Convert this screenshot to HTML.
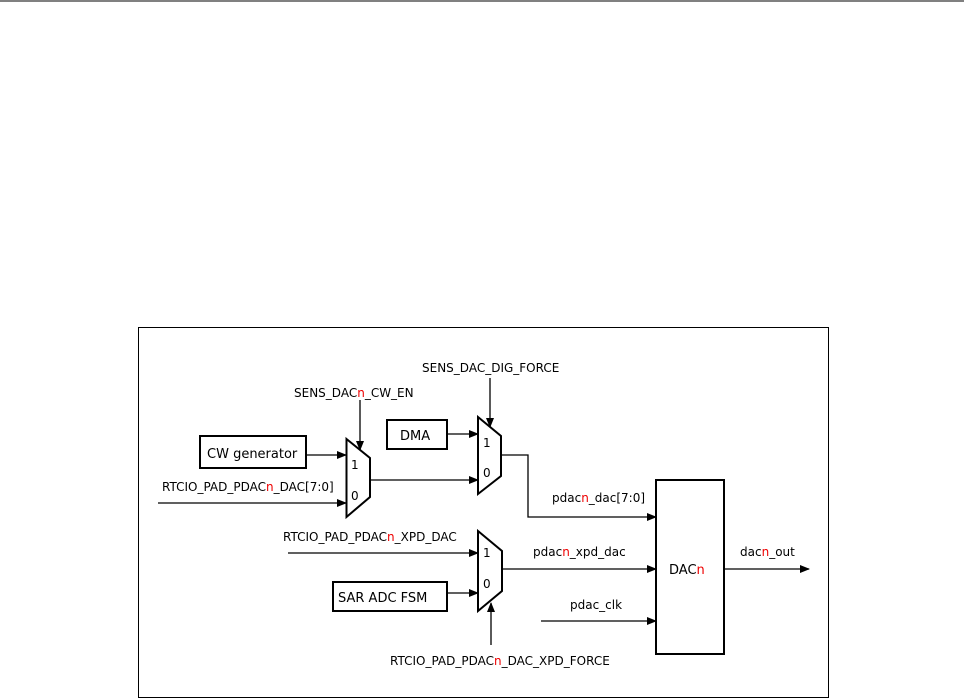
<!DOCTYPE html>
<html><head><style>body{margin:0;background:#fff}svg{display:block}text{font-family:"DejaVu Sans",sans-serif;font-size:12px;fill:#000}.r{fill:#e00}</style></head>
<body>
<svg width="964" height="699" viewBox="0 0 964 699" xmlns="http://www.w3.org/2000/svg">
<defs><marker id="a" markerWidth="10" markerHeight="8" refX="9" refY="4" orient="auto" markerUnits="userSpaceOnUse"><path d="M0,0 L10,4 L0,8 z" fill="#000"/></marker></defs>
<line x1="0" y1="1" x2="964" y2="1" stroke="#000" stroke-width="1"/>
<rect x="138.5" y="327.5" width="690" height="370" fill="none" stroke="#000"/>
<g fill="none" stroke="#000" stroke-width="1.3">
<rect x="200" y="436" width="106" height="32" stroke-width="2"/>
<rect x="387" y="420" width="60" height="29" stroke-width="2"/>
<rect x="333" y="582" width="114" height="29" stroke-width="2"/>
<rect x="656" y="480" width="68" height="174" stroke-width="2"/>
<path d="M346.5,439 L370,458 L370,497 L346.5,517 Z" stroke-width="2"/>
<path d="M478,417 L501,436 L501,476 L478,494 Z" stroke-width="2"/>
<path d="M478,531 L502,551 L502,591 L478,611 Z" stroke-width="2"/>
<line x1="306" y1="455" x2="346" y2="455" marker-end="url(#a)"/>
<line x1="158" y1="503" x2="346" y2="503" marker-end="url(#a)"/>
<line x1="360" y1="400" x2="360" y2="450" marker-end="url(#a)"/>
<line x1="370" y1="480" x2="478" y2="480" marker-end="url(#a)"/>
<line x1="447" y1="434" x2="478" y2="434" marker-end="url(#a)"/>
<line x1="490" y1="378" x2="490" y2="427" marker-end="url(#a)"/>
<polyline points="501,455 528,455 528,517 656,517" marker-end="url(#a)"/>
<line x1="288" y1="553" x2="478" y2="553" marker-end="url(#a)"/>
<line x1="502" y1="569" x2="656" y2="569" marker-end="url(#a)"/>
<line x1="447" y1="593" x2="478" y2="593" marker-end="url(#a)"/>
<line x1="541" y1="621" x2="656" y2="621" marker-end="url(#a)"/>
<line x1="491" y1="645" x2="491" y2="603" marker-end="url(#a)"/>
<line x1="724" y1="569" x2="809" y2="569" marker-end="url(#a)"/>
</g>
<text x="207" y="458" style="font-size:13px">CW generator</text>
<text x="400" y="440" style="font-size:13px">DMA</text>
<text x="338" y="602" style="font-size:13px">SAR ADC FSM</text>
<text x="669" y="574" style="font-size:13px">DAC<tspan class="r">n</tspan></text>
<text x="351" y="469">1</text><text x="351" y="500">0</text>
<text x="483" y="447">1</text><text x="483" y="477">0</text>
<text x="483" y="557">1</text><text x="483" y="588">0</text>
<text x="294" y="397">SENS_DAC<tspan class="r">n</tspan>_CW_EN</text>
<text x="422" y="372">SENS_DAC_DIG_FORCE</text>
<text x="162" y="491">RTCIO_PAD_PDAC<tspan class="r">n</tspan>_DAC[7:0]</text>
<text x="552" y="502">pdac<tspan class="r">n</tspan>_dac[7:0]</text>
<text x="283" y="541">RTCIO_PAD_PDAC<tspan class="r">n</tspan>_XPD_DAC</text>
<text x="533" y="556">pdac<tspan class="r">n</tspan>_xpd_dac</text>
<text x="570" y="609">pdac_clk</text>
<text x="740" y="556">dac<tspan class="r">n</tspan>_out</text>
<text x="390" y="665">RTCIO_PAD_PDAC<tspan class="r">n</tspan>_DAC_XPD_FORCE</text>
</svg>
</body></html>
